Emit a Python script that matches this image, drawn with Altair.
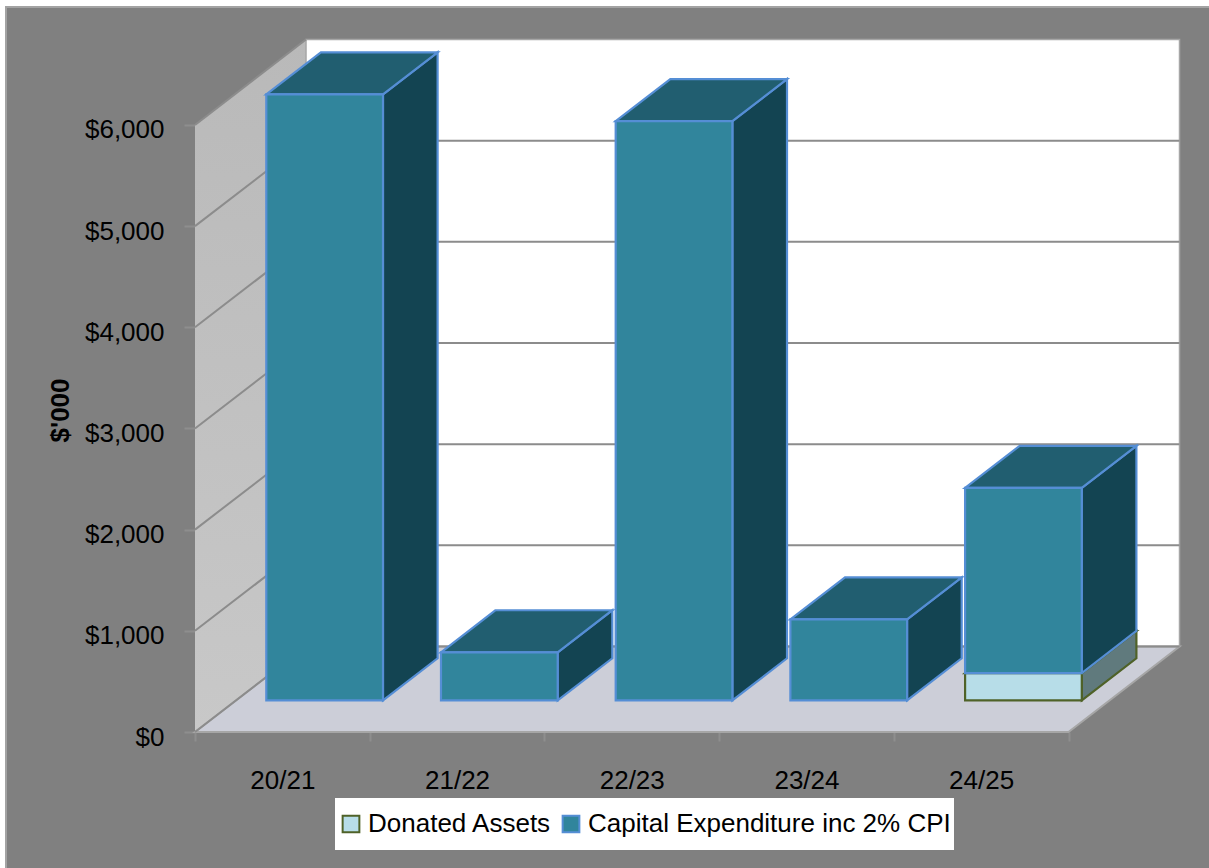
import altair as alt
import pandas as pd

# Chart values ($'000)
years = ["20/21", "21/22", "22/23", "23/24", "24/25"]
donated_assets = [0, 0, 0, 0, 270]
capital_expenditure = [5990, 475, 5725, 800, 1830]
y_ticks = [0, 1000, 2000, 3000, 4000, 5000, 6000]
series_names = ["Donated Assets", "Capital Expenditure inc 2% CPI"]

FONT = "Liberation Sans"
TICK_SIZE = 26

# Scale set-up: pixels per category and per dollar, origin of the front plane
PX_CAT = 174.7
PX_USD = 0.10117
VIEW_W, VIEW_H = 1203, 861
X0, Y0 = 189, 725  # position of the front-left floor corner inside the view

# Oblique depth vector of the 3D box, in data units
DX = 111 / PX_CAT
DY = 85.5 / PX_USD
# Bar placement within a category slot and within the depth of the box
BAR_LEFT, BAR_W = 0.173, 0.668
D_FRONT, D_BACK = 0.37, 0.862

x_domain = [-X0 / PX_CAT, (VIEW_W - X0) / PX_CAT]
y_domain = [(Y0 - VIEW_H) / PX_USD, Y0 / PX_USD]
x_scale = alt.Scale(domain=x_domain, nice=False, zero=False)
y_scale = alt.Scale(domain=y_domain, nice=False, zero=False)

n = len(years)
top = max(y_ticks)

labels_expr = "(" + str(years + [""]) + ")[datum.value]"
x_axis = alt.Axis(values=list(range(n + 1)), labelExpr=labels_expr, offset=Y0 - VIEW_H,
                  orient="bottom", domain=False, grid=False, tickColor="#8e8e8e", tickWidth=2,
                  tickSize=9, labelOffset=PX_CAT / 2, labelPadding=26, labelFont=FONT,
                  labelFontSize=TICK_SIZE, labelColor="black", title=None, labelFlush=False,
                  labelOverlap=False)
y_axis = alt.Axis(values=y_ticks, format="$,.0f", offset=-X0, orient="left", domain=False,
                  grid=False, tickColor="#8e8e8e", tickWidth=2, tickSize=11, labelPadding=20,
                  labelOffset=5, labelFont=FONT, labelFontSize=TICK_SIZE, labelColor="black",
                  title="$'000", titleFont=FONT, titleFontSize=26, titleFontWeight="bold",
                  titleColor="black", titleX=-122, titleY=403, labelOverlap=False)


def X(field="x"):
    return alt.X(f"{field}:Q", scale=x_scale, axis=x_axis)


def Y(field="y"):
    return alt.Y(f"{field}:Q", scale=y_scale, axis=y_axis)


# Build the faces of every stacked bar
front, side, lid = [], [], []
for i, year in enumerate(years):
    base = 0
    for name, value in zip(series_names, (donated_assets[i], capital_expenditure[i])):
        if value > 0:
            xl = i + BAR_LEFT
            xr = xl + BAR_W
            v0, v1 = base, base + value
            key = f"{year}|{name}"
            front.append({"series": name, "key": key,
                          "x": xl + D_FRONT * DX, "x2": xr + D_FRONT * DX,
                          "y": v0 + D_FRONT * DY, "y2": v1 + D_FRONT * DY})
            for d in (D_FRONT, D_BACK):
                side.append({"series": name, "key": key, "x": xr + d * DX,
                             "y": v0 + d * DY, "y2": v1 + d * DY})
                lid.append({"series": name, "key": key, "y": v1 + d * DY,
                            "x": xl + d * DX, "x2": xr + d * DX})
            base = v1

front, side, lid = pd.DataFrame(front), pd.DataFrame(side), pd.DataFrame(lid)

# Outer frame: only the top and left edges are visible
frame_df = pd.DataFrame({"x": [x_domain[0], x_domain[0], x_domain[1]],
                         "y": [y_domain[0], y_domain[1], y_domain[1]],
                         "step": [0, 1, 2]})
frame = alt.Chart(frame_df).mark_line(color="#a3a3a3", strokeWidth=2).encode(
    x=X(), y=Y(), order="step:Q")

# Box: side wall, back wall and floor
wall_df = pd.DataFrame({"x": [0, DX], "y": [0, DY], "y2": [top, top + DY]})
back_df = pd.DataFrame({"x": [DX], "x2": [n + DX], "y": [DY], "y2": [top + DY]})
floor_df = pd.DataFrame({"y": [0, DY], "x": [0, DX], "x2": [n, n + DX]})

wall = alt.Chart(wall_df).mark_area(
    orient="vertical",
    color=alt.Gradient(gradient="linear", x1=0, y1=0, x2=0, y2=1,
                       stops=[alt.GradientStop(color="#b9b9b9", offset=0),
                              alt.GradientStop(color="#c8c8c8", offset=1)]),
).encode(x=X(), y=Y(), y2="y2:Q")

back = alt.Chart(back_df).mark_rect(fill="white", stroke="#a6a6a6", strokeWidth=1.5).encode(
    x=X(), x2="x2:Q", y=Y(), y2="y2:Q")

floor = alt.Chart(floor_df).mark_area(
    orient="horizontal", fill="#ccced8", stroke="#a6a6a6", strokeWidth=2,
).encode(y=Y(), x=X(), x2="x2:Q")

# Gridlines run up the side wall and across the back wall; the topmost stops at the wall corner
grid_rows = []
for v in y_ticks:
    grid_rows += [{"v": v, "step": 0, "x": 0, "y": v},
                  {"v": v, "step": 1, "x": DX, "y": v + DY}]
    if v < top:
        grid_rows.append({"v": v, "step": 2, "x": n + DX, "y": v + DY})
grid_df = pd.DataFrame(grid_rows)

grid = alt.Chart(grid_df).mark_line(color="#8c8c8c", strokeWidth=2).encode(
    x=X(), y=Y(), detail="v:N", order="step:Q")

# Face styling per series
front_fill = ["#b7dde8", "#31859c"]
line_color = ["#4f6228", "#558ed5"]
side_fill = ["#607a7d", "#134452"]
lid_fill = ["#8aa6ae", "#215e70"]

layers = [frame, wall, back, floor, grid]
for k, name in enumerate(series_names):
    layers.append(alt.Chart(side[side.series == name]).mark_area(
        orient="vertical", fill=side_fill[k], stroke=line_color[k], strokeWidth=2.2,
    ).encode(x=X(), y=Y(), y2="y2:Q", detail="key:N"))
    layers.append(alt.Chart(lid[lid.series == name]).mark_area(
        orient="horizontal", fill=lid_fill[k], stroke=line_color[k], strokeWidth=2.2,
    ).encode(y=Y(), x=X(), x2="x2:Q", detail="key:N"))

legend = alt.Legend(title=None, orient="none", legendX=329, legendY=791, direction="horizontal",
                    columns=2, fillColor="white", padding=3, columnPadding=6, clipHeight=46,
                    symbolType="square", symbolSize=280, symbolStrokeWidth=2, labelOffset=4,
                    labelFont=FONT, labelFontSize=TICK_SIZE, labelColor="black", labelLimit=500)

faces = alt.Chart(front).mark_rect(strokeWidth=2.2).encode(
    x=X(), x2="x2:Q", y=Y(), y2="y2:Q",
    fill=alt.Fill("series:N", scale=alt.Scale(domain=series_names, range=front_fill), legend=legend),
    stroke=alt.Stroke("series:N", scale=alt.Scale(domain=series_names, range=line_color), legend=legend),
    order=alt.Order("series:N", sort="descending"),
)
layers.append(faces)

chart = alt.layer(*layers).properties(
    width=VIEW_W, height=VIEW_H,
    padding={"left": 6, "top": 7, "right": 0, "bottom": 0},
    autosize=alt.AutoSizeParams(type="none"),
    background="white",
).configure_view(fill="#808080", stroke=None)

chart.save("out.html", embed_options={"renderer": "svg", "actions": False})
